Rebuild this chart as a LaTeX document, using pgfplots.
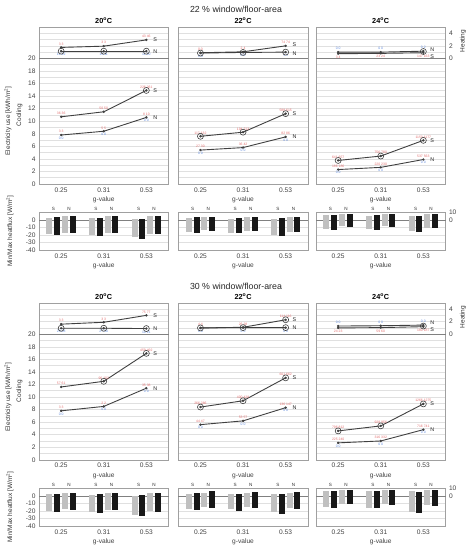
\documentclass[border=0pt]{standalone}
\usepackage{fontspec}
\setmainfont{Liberation Sans}
\usepackage{pgfplots}
\usepackage{pgfplotstable}
\pgfplotsset{compat=1.18}

\definecolor{lred}{RGB}{226,112,112}
\definecolor{lblue}{RGB}{98,140,222}
\definecolor{lgray}{RGB}{192,192,192}
\definecolor{dkbar}{RGB}{24,24,24}
\definecolor{lnc}{RGB}{64,64,64}
\definecolor{gridc}{RGB}{224,224,224}
\definecolor{framec}{RGB}{160,160,160}

\newcommand{\tf}{\fontsize{6.6}{7.5}\selectfont}
\newcommand{\lf}{\fontsize{3.4}{4}\selectfont}

% ---------- line data: heating (S,N), cooling (S,N), labels ----------
\pgfplotstableread[col sep=comma]{
x,hs,hn,cs,cn,hsl,hnl,csl,cnl,cnb
1,1.75,1.15,10.7,7.8,3 3,12 12,36 36,3 3,0 0
2,1.95,1.15,11.5,8.4,3 3,12 11,50 50,5 5,0 0
3,2.95,1.15,14.9,10.6,43 46,11 10,226 261,8 10,0 0
}\LAa
\pgfplotstableread[col sep=comma]{
x,hs,hn,cs,cn,hsl,hnl,csl,cnl,cnb
1,0.9,0.85,7.6,5.4,0 0,0 0,117 132,27 30,0 0
2,1.05,0.95,8.25,5.8,2 4,0 0,194 213,36 42,0 0
3,2.0,1.0,11.2,7.5,74 74,1 1,588 615,82 86,0 0
}\LAb
\pgfplotstableread[col sep=comma]{
x,hs,hn,cs,cn,hsl,hnl,csl,cnl,cnb
1,0.75,1.0,3.75,2.3,3 4,0 0,641 657,186 186,0 0
2,0.8,1.0,4.45,2.65,23 24,0 0,756 780,220 230,0 0
3,0.9,1.15,6.95,3.9,147 163,0 2,1153 1177,537 563,0 0
}\LAc
\pgfplotstableread[col sep=comma]{
x,hs,hn,cs,cn,hsl,hnl,csl,cnl,cnb
1,1.6,0.95,11.6,7.8,3 3,28 28,57 61,3 3,0 0
2,1.9,0.95,12.5,8.5,3 3,27 30,96 102,2 2,0 0
3,3.0,0.9,16.95,11.4,75 77,19 21,459 492,35 38,0 0
}\LBa
\pgfplotstableread[col sep=comma]{
x,hs,hn,cs,cn,hsl,hnl,csl,cnl,cnb
1,1.0,1.0,8.4,5.6,4 4,0 0,266 286,44 47,0 0
2,1.1,1.05,9.4,6.2,26 28,0 0,400 428,53 57,0 0
3,2.3,1.05,13.05,8.3,114 116,0 0,601 662,136 147,0 0
}\LBb
\pgfplotstableread[col sep=comma]{
x,hs,hn,cs,cn,hsl,hnl,csl,cnl,cnb
1,1.0,1.3,4.6,2.7,24 23,0 0,796 812,225 240,0 0
2,1.05,1.35,5.4,3.0,59 60,0 0,929 956,316 332,0 0
3,1.2,1.45,8.9,4.8,180 187,0 0,1266 1275,716 741,0 0
}\LBc

% ---------- bar data: min/max heat flux ----------
\pgfplotstableread[col sep=comma]{
x,sgl,sgh,skl,skh,ngl,ngh,nkl,nkh
1,-19.4,2.3,-20.3,3.2,-17.1,5.4,-18,5.4
2,-20.3,2.3,-21.6,2.3,-17.1,5,-18,5.4
3,-23.4,1.4,-24.8,1.4,-18.9,4.5,-19.4,5.4
}\BAa
\pgfplotstableread[col sep=comma]{
x,sgl,sgh,skl,skh,ngl,ngh,nkl,nkh
1,-16.7,2.3,-17,3.2,-13.5,4,-14.9,4
2,-17,1.4,-18,2.3,-14.4,3.6,-15.3,4
3,-19.8,1.4,-21.2,2.3,-15.8,3.6,-15.8,4
}\BAb
\pgfplotstableread[col sep=comma]{
x,sgl,sgh,skl,skh,ngl,ngh,nkl,nkh
1,-11.7,6.5,-13,6.5,-8.7,7.8,-9.6,7.8
2,-12.2,5.7,-13.5,6,-8.7,7.4,-9.6,7.4
3,-15.2,5.2,-16.5,5.7,-10.4,7.4,-11.3,7.4
}\BAc
\pgfplotstableread[col sep=comma]{
x,sgl,sgh,skl,skh,ngl,ngh,nkl,nkh
1,-20,2.2,-21.3,3,-17.8,4.4,-18.7,4.4
2,-21.3,1.3,-23,2.2,-18.7,4,-19,4.4
3,-25.3,0,-27,0.9,-20,3.5,-21,4.4
}\BBa
\pgfplotstableread[col sep=comma]{
x,sgl,sgh,skl,skh,ngl,ngh,nkl,nkh
1,-17.8,3,-18.7,3.5,-14.2,4.4,-15.6,5.8
2,-17.8,2,-20,3,-14.2,4.4,-15.6,5.3
3,-22,2.2,-23.6,3,-16.4,4.4,-17.8,5.3
}\BBb
\pgfplotstableread[col sep=comma]{
x,sgl,sgh,skl,skh,ngl,ngh,nkl,nkh
1,-14.2,6.7,-15.6,6.7,-10.2,8,-11.1,8
2,-15.6,6.7,-16.4,6.7,-11,7.5,-12,8
3,-21,5.8,-22.2,5.3,-12.4,7.5,-13.8,8
}\BBc

\tikzset{
  labA/.style={anchor=south, yshift=1.4pt},
  labB/.style={anchor=north, yshift=-1.4pt},
  redlab/.style={font=\lf, text=lred, inner sep=0.3pt},
  bluelab/.style={font=\lf, text=lblue, inner sep=0.3pt},
  endlab/.style={pos=1, anchor=west, xshift=6pt, font=\fontsize{5.4}{6}\selectfont, text=black!85, inner sep=0.5pt},
  barlab/.style={font=\fontsize{4.6}{5}\selectfont, text=black!80, anchor=south, inner sep=0pt, yshift=1.3pt},
  sidelab/.style={rotate=90, font=\fontsize{6.5}{7}\selectfont, text=black!80},
}

\pgfplotsset{
  base/.style={scale only axis, width=129.5pt, xmin=0.48, xmax=3.52,
    xtick={1,2,3}, xticklabels={0.25,0.31,0.53}, xlabel={g-value},
    axis line style={framec, line width=0.5pt},
    major tick length=0pt, tick style={draw=none},
    ymajorgrids, grid style={gridc, line width=0.5pt},
    ticklabel style={font=\tf, text=black!75},
    xlabel style={font=\tf, text=black!75, yshift=2pt},
    clip=false, anchor=north west,
    title style={font=\bfseries\fontsize{7.3}{8}\selectfont, at={(0.5,1)}, anchor=south, inner sep=1pt, yshift=-3.5pt}},
  lineax/.style={base, height=157pt, ymin=0, ymax=25, ytick={0,...,24}, yticklabels={},
    extra y ticks={20}, extra y tick labels={},
    extra y tick style={grid=major, major grid style={black!50, line width=0.7pt}}},
  barax/.style={base, height=37.7pt, ymin=-40, ymax=10, ytick={-40,-30,...,10}, yticklabels={},
    extra y ticks={0}, extra y tick labels={},
    extra y tick style={grid=major, major grid style={black!50, line width=0.6pt}}},
  ln/.style={lnc, line width=0.9pt, mark=*, mark size=0.7pt, mark options={lnc, solid}},
  circ/.style={only marks, mark=o, mark size=3pt, lnc, line width=0.6pt},
}

% #1 table, #2 style for heating-S labels, #3 style for heating-N labels, #4 yshift of S end label, #5 yshift of N end label
\newcommand{\lineplots}[5]{%
  \addplot[ln, nodes near coords, point meta=explicit symbolic,
    every node near coord/.style={redlab, #2}]
    table[x=x, y expr=20+\thisrow{hs}, meta=hsl]{#1} node[endlab, yshift=#4]{S};
  \addplot[ln, nodes near coords, point meta=explicit symbolic,
    every node near coord/.style={bluelab, #3}]
    table[x=x, y expr=20+\thisrow{hn}, meta=hnl]{#1} node[endlab, yshift=#5]{N};
  \addplot[ln, nodes near coords, point meta=explicit symbolic,
    every node near coord/.style={redlab, labA}]
    table[x=x, y=cs, meta=csl]{#1} node[endlab]{S};
  \addplot[ln, nodes near coords, point meta=explicit symbolic,
    every node near coord/.style={redlab, labA}]
    table[x=x, y=cn, meta=cnl]{#1} node[endlab]{N};
  \addplot[draw=none, mark=none, nodes near coords, point meta=explicit symbolic,
    every node near coord/.style={bluelab, labB}]
    table[x=x, y=cn, meta=cnb]{#1};
}

% #1 table, #2 x offset, #3 low col, #4 high col, #5 colour
\newcommand{\barset}[5]{%
  \addplot[draw=none, mark=none, error bars/.cd, y dir=both, y explicit, error mark=none,
    error bar style={draw=#5, line width=6pt}]
    table[x expr=\thisrow{x}+(#2), y expr=(\thisrow{#3}+\thisrow{#4})/2,
          y error expr=(\thisrow{#4}-\thisrow{#3})/2]{#1};
}
\newcommand{\barplots}[1]{%
  \barset{#1}{-0.275}{sgl}{sgh}{lgray}
  \barset{#1}{-0.092}{skl}{skh}{dkbar}
  \barset{#1}{0.092}{ngl}{ngh}{lgray}
  \barset{#1}{0.275}{nkl}{nkh}{dkbar}
  \pgfplotsinvokeforeach{1,2,3}{%
    \node[barlab] at (axis cs:##1-0.183,10) {S};
    \node[barlab] at (axis cs:##1+0.183,10) {N};
  }
}

\begin{document}
\begin{tikzpicture}
\path[use as bounding box] (0pt,0pt) rectangle (472pt,-550pt);

\node[font=\fontsize{8.8}{10}\selectfont, text=black!85] at (236pt,-9pt) {22 \% window/floor-area};
\node[font=\fontsize{8.8}{10}\selectfont, text=black!85] at (236pt,-286pt) {30 \% window/floor-area};

% side labels
\node[sidelab] at (8pt,-121pt) {Electricity use [kWh/m\textsuperscript{2}]};
\node[sidelab] at (19.5pt,-115pt) {Cooling};
\node[sidelab] at (10pt,-231pt) {Min/Max heatflux [W/m\textsuperscript{2}]};
\node[sidelab] at (463pt,-41pt) {Heating};

\node[sidelab] at (8pt,-397pt) {Electricity use [kWh/m\textsuperscript{2}]};
\node[sidelab] at (19.5pt,-391pt) {Cooling};
\node[sidelab] at (10pt,-507pt) {Min/Max heatflux [W/m\textsuperscript{2}]};
\node[sidelab] at (463pt,-317pt) {Heating};

% ================= 22 % =================
\begin{axis}[lineax, at={(39pt,-27pt)}, title={20\textsuperscript{o}C},
  yticklabels={0,,2,,4,,6,,8,,10,,12,,14,,16,,18,,20,,,,}]
\lineplots{\LAa}{labA}{labB}{0pt}{0pt}
\addplot[circ] coordinates {(1,21.15)(2,21.15)(3,21.15)(3,14.9)};
\end{axis}
\begin{axis}[lineax, at={(178.3pt,-27pt)}, title={22\textsuperscript{o}C}]
\lineplots{\LAb}{labA}{labB}{1.5pt}{-1.5pt}
\addplot[circ] coordinates {(1,20.85)(2,20.95)(3,21.0)(1,7.6)(2,8.25)(3,11.2)};
\end{axis}
\begin{axis}[lineax, at={(316pt,-27pt)}, title={24\textsuperscript{o}C},
  yticklabel pos=right, yticklabels={,,,,,,,,,,,,,,,,,,,,0,,2,,4}]
\lineplots{\LAc}{labB}{labA}{-3.5pt}{2pt}
\addplot[circ] coordinates {(3,21.1)(1,3.75)(2,4.45)(3,6.95)};
\end{axis}

\begin{axis}[barax, at={(39pt,-212.3pt)}, yticklabels={-40,-30,-20,-10,0,}]
\barplots{\BAa}
\end{axis}
\begin{axis}[barax, at={(178.3pt,-212.3pt)}]
\barplots{\BAb}
\end{axis}
\begin{axis}[barax, at={(316pt,-212.3pt)}, yticklabel pos=right, yticklabels={,,,,0,10}]
\barplots{\BAc}
\end{axis}

% ================= 30 % =================
\begin{axis}[lineax, at={(39pt,-302.8pt)}, title={20\textsuperscript{o}C},
  yticklabels={0,,2,,4,,6,,8,,10,,12,,14,,16,,18,,20,,,,}]
\lineplots{\LBa}{labA}{labB}{0pt}{0pt}
\addplot[circ] coordinates {(1,20.95)(2,20.95)(3,20.9)(2,12.5)(3,16.95)};
\end{axis}
\begin{axis}[lineax, at={(178.3pt,-302.8pt)}, title={22\textsuperscript{o}C}]
\lineplots{\LBb}{labA}{labB}{0pt}{0pt}
\addplot[circ] coordinates {(1,21.0)(2,21.05)(3,21.05)(3,22.3)(1,8.4)(2,9.4)(3,13.05)};
\end{axis}
\begin{axis}[lineax, at={(316pt,-302.8pt)}, title={24\textsuperscript{o}C},
  yticklabel pos=right, yticklabels={,,,,,,,,,,,,,,,,,,,,0,,2,,4}]
\lineplots{\LBc}{labB}{labA}{-3pt}{2.5pt}
\addplot[circ] coordinates {(3,21.3)(1,4.6)(2,5.4)(3,8.9)};
\end{axis}

\begin{axis}[barax, at={(39pt,-488.3pt)}, yticklabels={-40,-30,-20,-10,0,}]
\barplots{\BBa}
\end{axis}
\begin{axis}[barax, at={(178.3pt,-488.3pt)}]
\barplots{\BBb}
\end{axis}
\begin{axis}[barax, at={(316pt,-488.3pt)}, yticklabel pos=right, yticklabels={,,,,0,10}]
\barplots{\BBc}
\end{axis}

\end{tikzpicture}
\end{document}
